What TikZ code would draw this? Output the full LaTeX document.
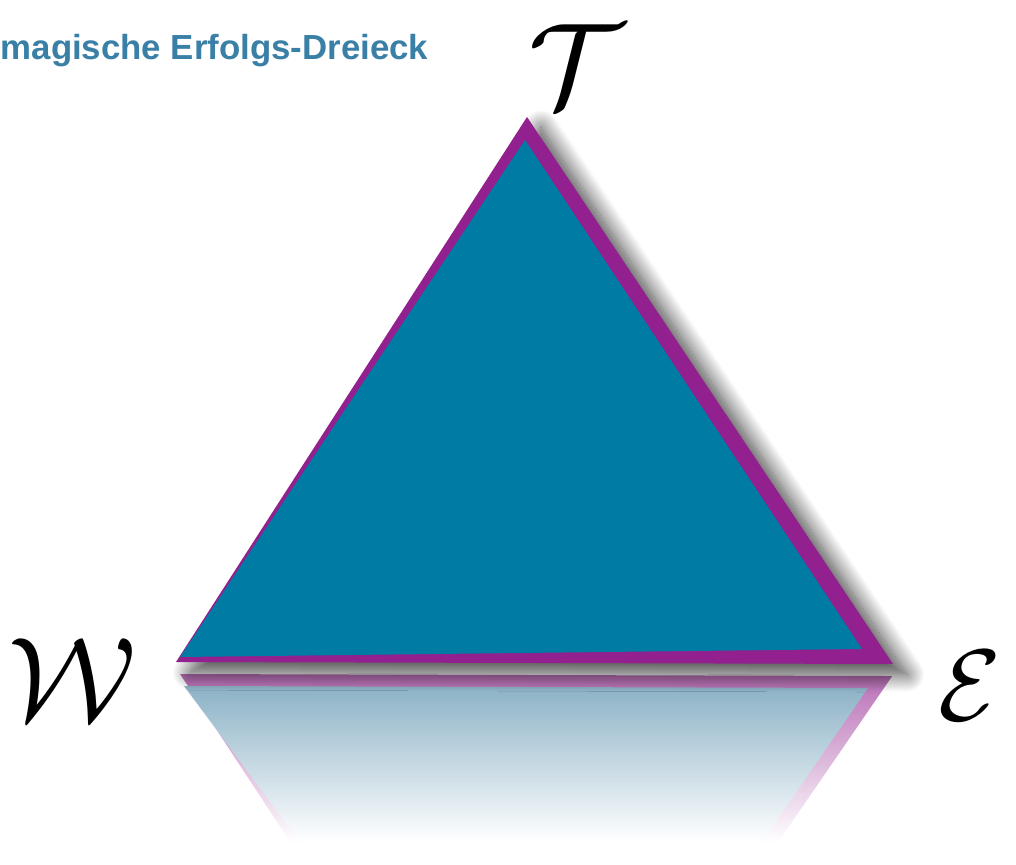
\documentclass[tikz,border=0pt]{standalone}
\usepackage{fontspec}
\setsansfont{Liberation Sans}
\usetikzlibrary{shadows.blur, fadings}
\definecolor{titleblue}{RGB}{58,128,166}
\definecolor{triteal}{RGB}{0,123,164}
\definecolor{tripurple}{RGB}{147,32,143}
\definecolor{reflteal}{RGB}{140,178,198}
\tikzfading[name=reflfade, top color=transparent!35, bottom color=transparent!100]

\begin{document}
\begin{tikzpicture}[x=0.01cm, y=-0.01cm,
    letter/.style={scale=3.4, inner sep=0pt},
    title/.style={font=\sffamily\bfseries, text=titleblue, scale=0.99, inner sep=0pt}]
  \useasboundingbox (0,0) rectangle (1016,865);
  % corners of the triangle
  \coordinate (top) at (527,117);
  \coordinate (left) at (176,662);
  \coordinate (right) at (893,664);

  % reflection on the floor
  \fill[tripurple, path fading=reflfade] (180,674) -- (892,676) -- (778,842) -- (290,842) -- cycle;
  \shade[top color=reflteal, bottom color=white] (184,686) -- (868,688) -- (762,842) -- (300,842) -- cycle;

  % the triangle itself
  \fill[tripurple, blur shadow={shadow xshift=4pt, shadow yshift=-3pt, shadow blur radius=5pt,
      shadow blur steps=24, shadow opacity=75}]
    (top) -- (right) -- (left) -- cycle;
  \fill[triteal] (525,140) -- (862,649) -- (180,657) -- cycle;

  \node[title, anchor=base west] (head) at (0,60) {magische Erfolgs-Dreieck};
  \node[letter] (T) at (576,66) {$\mathcal{T}$};
  \node[letter] (W) at (72,680) {$\mathcal{W}$};
  \node[letter, scale=0.85] (E) at (970,686) {$\mathcal{E}$};
\end{tikzpicture}
\end{document}
